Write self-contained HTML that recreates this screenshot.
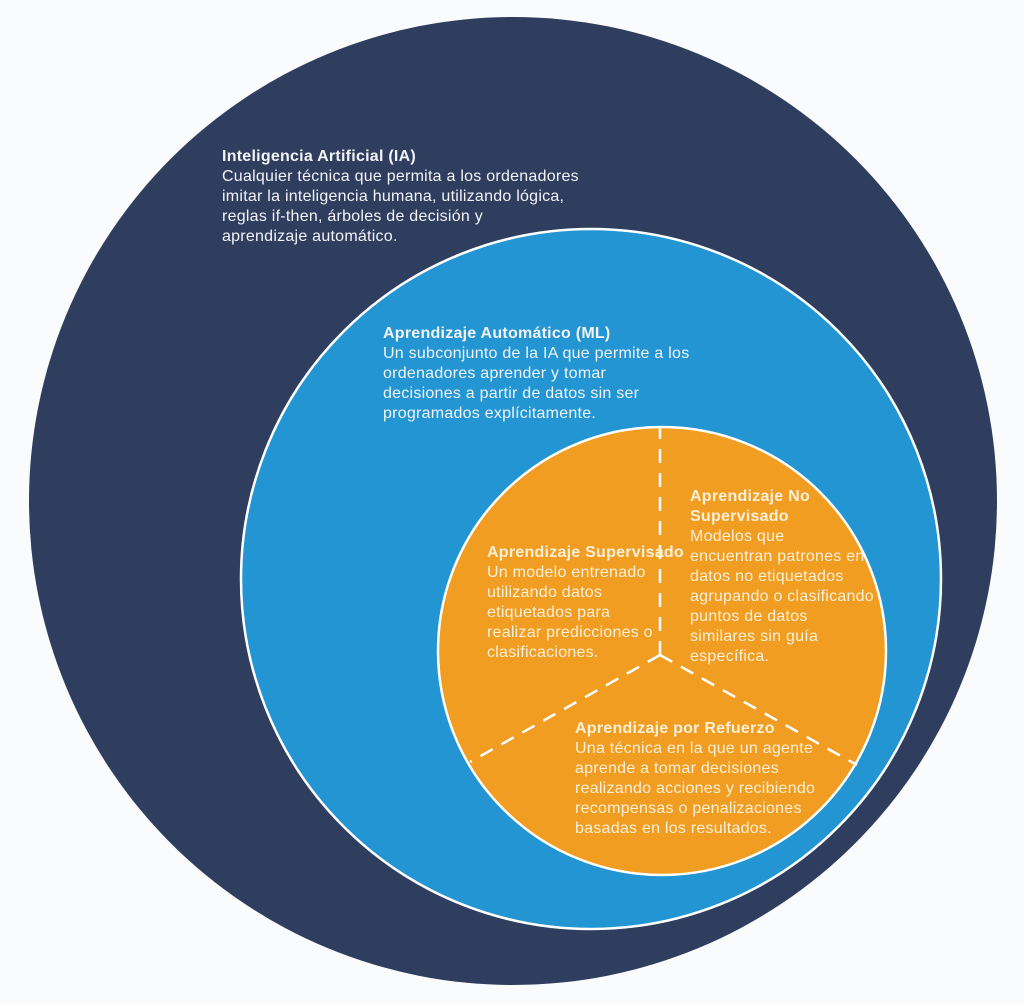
<!DOCTYPE html>
<html><head><meta charset="utf-8"><style>
body{margin:0;width:1024px;height:1004px;background:#fafbfc;position:relative;overflow:hidden;font-family:"Liberation Sans",sans-serif}
svg{position:absolute;left:0;top:0}
.t{position:absolute;font-size:16px;letter-spacing:0.25px;line-height:20px;white-space:nowrap}
.t b{font-weight:bold}
.w{color:#f2f4f8}.c{color:#fdf0d8}
</style></head><body>
<svg width="1024" height="1004">
<circle cx="513" cy="501" r="484" fill="#2f3e5e"/>
<circle cx="591" cy="579" r="350" fill="#2295d2" stroke="#fff" stroke-width="2.5"/>
<circle cx="662" cy="651" r="224" fill="#f09d22" stroke="#fff" stroke-width="2.5"/>
<g stroke="#fff" stroke-width="2.5" stroke-dasharray="14,10" fill="none">
<line x1="660" y1="655" x2="660" y2="428"/>
<line x1="660" y1="655" x2="470" y2="762"/>
<line x1="660" y1="655" x2="857" y2="765"/>
</g>
</svg>
<div class="t w" style="left:222px;top:147px"><b>Inteligencia Artificial (IA)</b><br>Cualquier técnica que permita a los ordenadores<br>imitar la inteligencia humana, utilizando lógica,<br>reglas if-then, árboles de decisión y<br>aprendizaje automático.</div>
<div class="t w" style="left:383px;top:324px"><b>Aprendizaje Automático (ML)</b><br>Un subconjunto de la IA que permite a los<br>ordenadores aprender y tomar<br>decisiones a partir de datos sin ser<br>programados explícitamente.</div>
<div class="t c" style="left:487px;top:543px"><b>Aprendizaje Supervisado</b><br>Un modelo entrenado<br>utilizando datos<br>etiquetados para<br>realizar predicciones o<br>clasificaciones.</div>
<div class="t c" style="left:690px;top:487px"><b>Aprendizaje No<br>Supervisado</b><br>Modelos que<br>encuentran patrones en<br>datos no etiquetados<br>agrupando o clasificando<br>puntos de datos<br>similares sin guía<br>específica.</div>
<div class="t c" style="left:575px;top:719px"><b>Aprendizaje por Refuerzo</b><br>Una técnica en la que un agente<br>aprende a tomar decisiones<br>realizando acciones y recibiendo<br>recompensas o penalizaciones<br>basadas en los resultados.</div>
</body></html>
